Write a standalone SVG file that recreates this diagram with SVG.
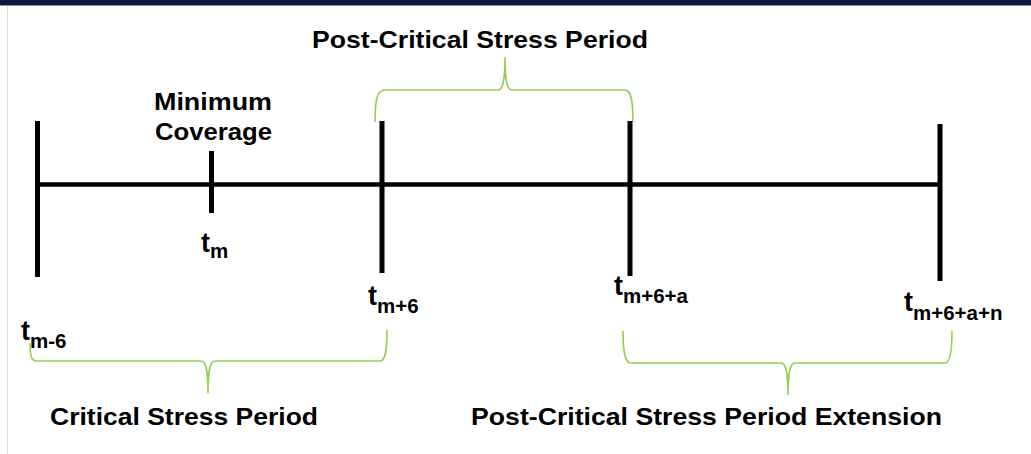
<svg xmlns="http://www.w3.org/2000/svg" width="1031" height="454" viewBox="0 0 1031 454">
<style>
.lbl{font-family:"Liberation Sans",Arial,sans-serif;font-weight:bold;font-size:24px;fill:#000}
.t{font-family:"Liberation Sans",Arial,sans-serif;font-weight:bold;font-size:27px;fill:#000}
.sub{font-size:20.5px}
.tick{stroke:#000;stroke-width:5;fill:none}
.brace{stroke:#92d050;stroke-width:1.6;fill:none}
</style>
<rect x="0" y="0" width="1031" height="454" fill="#fff"/>
<rect x="0" y="0" width="1031" height="5" fill="#0c1b3a"/>
<line x1="0" y1="5.5" x2="1031" y2="5.5" stroke="#8a93a3" stroke-width="1"/>
<line x1="7.5" y1="6" x2="7.5" y2="454" stroke="#d9d9d9" stroke-width="1"/>
<g id="connectors">
<line class="tick" x1="37" y1="184.5" x2="940" y2="184.5" style="stroke-width:4.5"/>
<path class="brace" d="M375,122 C375,100 377,90 385,90 L498,90 C503,90 505,80 505,57 C505,80 507,90 512,90 L625,90 C631,90 633,100 633,122"/>
<path class="brace" d="M30,343 C30,355 31,361 37,361 L201,361 C206,361 208,370 208,393 C208,370 210,361 215,361 L380,361 C385,361 387,352 387,330"/>
<path class="brace" d="M623,331 C623,352 625,363 631,363 L781,363 C786,363 788,372 788,395 C788,372 790,363 795,363 L945,363 C950,363 952,352 952,331"/>
</g>
<g id="tick-m-6"><line class="tick" x1="37.5" y1="121" x2="37.5" y2="277"/>
<text class="t" x="21" y="340">t<tspan class="sub" dy="8">m-6</tspan></text></g>
<g id="tick-m"><line class="tick" x1="211.5" y1="151" x2="211.5" y2="213"/>
<text class="t" x="201" y="252">t<tspan class="sub" dy="6">m</tspan></text>
<text class="lbl" x="154" y="110" textLength="118" lengthAdjust="spacingAndGlyphs">Minimum</text>
<text class="lbl" x="155" y="140" textLength="117" lengthAdjust="spacingAndGlyphs">Coverage</text></g>
<g id="tick-m+6"><line class="tick" x1="382" y1="121" x2="382" y2="273"/>
<text class="t" x="368" y="305">t<tspan class="sub" dy="8">m+6</tspan></text></g>
<g id="tick-m+6+a"><line class="tick" x1="630" y1="121" x2="630" y2="276"/>
<text class="t" x="614" y="295">t<tspan class="sub" dy="8">m+6+a</tspan></text></g>
<g id="tick-m+6+a+n"><line class="tick" x1="940" y1="124" x2="940" y2="281"/>
<text class="t" x="904" y="311">t<tspan class="sub" dy="9">m+6+a+n</tspan></text></g>
<g id="post-critical"><text class="lbl" x="312" y="48" textLength="336" lengthAdjust="spacingAndGlyphs">Post-Critical Stress Period</text></g>
<g id="critical"><text class="lbl" x="50" y="425" textLength="268" lengthAdjust="spacingAndGlyphs">Critical Stress Period</text></g>
<g id="extension"><text class="lbl" x="471" y="425" textLength="471" lengthAdjust="spacingAndGlyphs">Post-Critical Stress Period Extension</text></g>
</svg>
